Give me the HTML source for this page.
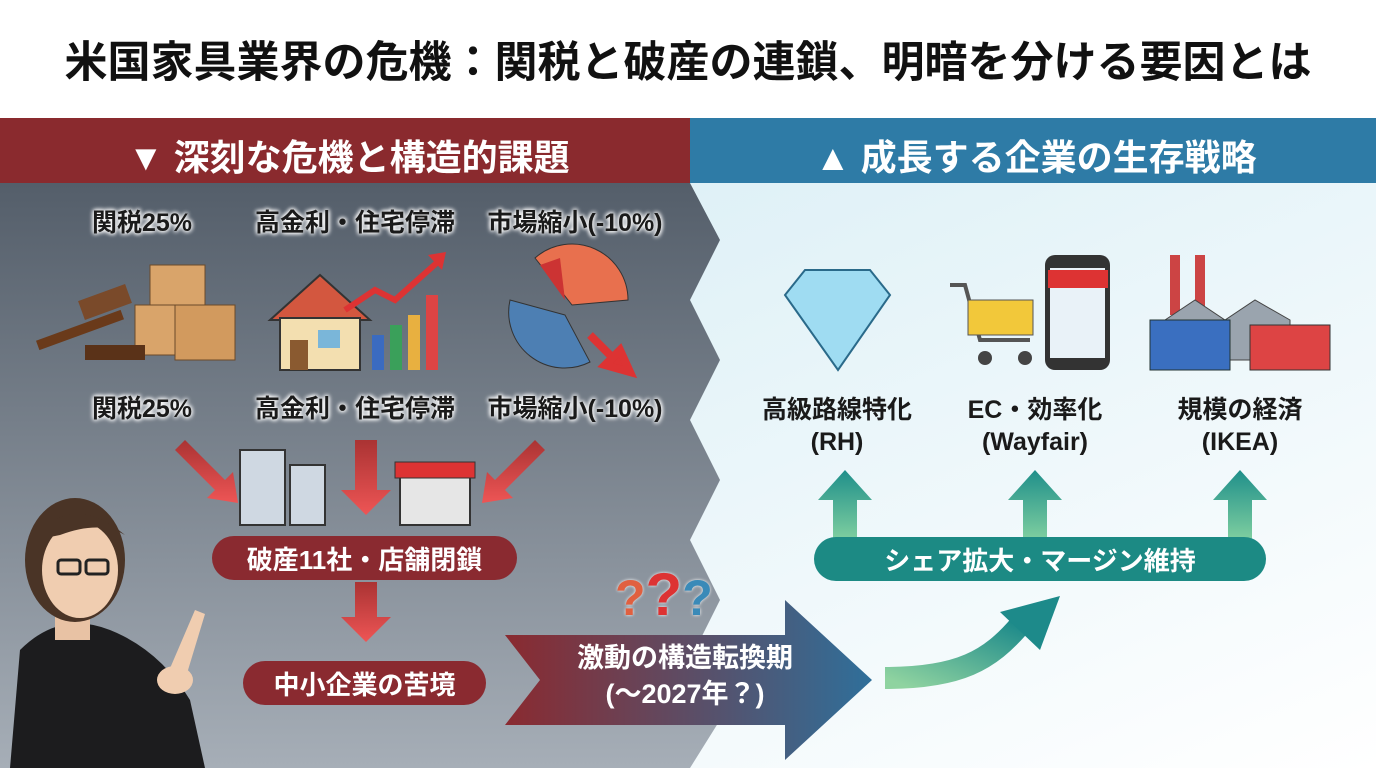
<!DOCTYPE html>
<html><head><meta charset="utf-8"><style>
*{margin:0;padding:0;box-sizing:border-box}
body{width:1376px;height:768px;overflow:hidden;position:relative;background:#fff;font-family:"Liberation Sans","Noto Sans CJK JP",sans-serif}
.t{position:absolute;white-space:nowrap;font-weight:bold}
.lbl{font-size:25px;color:#1a1a1a;text-shadow:0 0 4px #fff,0 0 4px #fff,0 0 6px #fff;transform:translateX(-50%);text-align:center;line-height:30px}
.rl{font-size:25px;color:#1a1a1a;transform:translateX(-50%);text-align:center;line-height:32px}
.pill{position:absolute;border-radius:24px;color:#fff;font-weight:bold;display:flex;align-items:center;justify-content:center}
</style></head><body>
<div class="t" style="left:0;width:1376px;top:28px;text-align:center;font-size:43px;color:#111">米国家具業界の危機：関税と破産の連鎖、明暗を分ける要因とは</div>
<svg style="position:absolute;left:0;top:0" width="1376" height="768">
<defs>
<linearGradient id="lg" x1="0" y1="0" x2="0" y2="1"><stop offset="0" stop-color="#545e6a"/><stop offset="1" stop-color="#a6aeb7"/></linearGradient>
<linearGradient id="rg" x1="0" y1="0" x2="1" y2="1"><stop offset="0" stop-color="#d4ecf4"/><stop offset="1" stop-color="#ffffff"/></linearGradient>
<linearGradient id="ag" x1="0" y1="0" x2="1" y2="0"><stop offset="0" stop-color="#8a2a30"/><stop offset="1" stop-color="#2f6f9a"/></linearGradient>
<linearGradient id="tg" x1="0" y1="1" x2="1" y2="0"><stop offset="0" stop-color="#8fd3a0"/><stop offset="1" stop-color="#1d8a8a"/></linearGradient>
<linearGradient id="ug" x1="0" y1="1" x2="0" y2="0"><stop offset="0" stop-color="#7fcfa0"/><stop offset="1" stop-color="#1f8f8a"/></linearGradient>
<linearGradient id="dg" x1="0" y1="0" x2="0" y2="1"><stop offset="0" stop-color="#a33"/><stop offset="1" stop-color="#e55"/></linearGradient>
</defs>
<rect x="0" y="183" width="1376" height="585" fill="url(#rg)"/>
<path d="M0 183 H690 L720 240 L690 300 L720 360 L690 420 L720 480 L690 540 L720 600 L690 660 L720 720 L690 768 H0Z" fill="url(#lg)"/>
<rect x="0" y="118" width="690" height="65" fill="#8a2a2e"/>
<rect x="690" y="118" width="686" height="65" fill="#2e7ba6"/>
<g><rect x="150" y="265" width="55" height="45" fill="#d9a46a" stroke="#6b4a2a"/><rect x="135" y="305" width="55" height="50" fill="#d9a46a" stroke="#6b4a2a"/><rect x="175" y="305" width="60" height="55" fill="#d29a5e" stroke="#6b4a2a"/>
<rect x="80" y="292" width="50" height="20" fill="#7a4a2a" transform="rotate(-20 105 302)"/><rect x="35" y="325" width="90" height="10" fill="#6a3a1a" transform="rotate(-20 80 330)"/><rect x="85" y="345" width="60" height="15" fill="#5a3218"/></g>
<g><path d="M270 320 L320 275 L370 320Z" fill="#d3573f" stroke="#333" stroke-width="2"/><rect x="280" y="318" width="80" height="52" fill="#f3dfb0" stroke="#333" stroke-width="2"/><rect x="290" y="340" width="18" height="30" fill="#8a5a30"/><rect x="318" y="330" width="22" height="18" fill="#7ab6d9"/>
<rect x="372" y="335" width="12" height="35" fill="#3b6bc0"/><rect x="390" y="325" width="12" height="45" fill="#3aa05a"/><rect x="408" y="315" width="12" height="55" fill="#e8b040"/><rect x="426" y="295" width="12" height="75" fill="#d44"/>
<polyline points="345,310 375,290 395,300 440,260" fill="none" stroke="#d33" stroke-width="6"/><path d="M428 255 L446 252 L442 270Z" fill="#d33"/></g>
<g><path d="M565 315 L510 300 A56 56 0 0 0 590 362 Z" fill="#4d7fb3" stroke="#333"/><path d="M572 305 L535 258 A56 56 0 0 1 628 300Z" fill="#e8704e" stroke="#333"/><path d="M540 265 L560 258 L565 300 Z" fill="#c33"/><path d="M590 335 L615 360 M605 365 L630 372 L620 350Z" stroke="#d33" stroke-width="8" fill="#d33"/></g>
<path d="M185 440 L225 480 L233 472 L238 503 L207 498 L215 490 L175 450Z" fill="url(#dg)"/>
<path d="M355 440 h22 v50 h14 l-25 25 l-25 -25 h14Z" fill="url(#dg)"/>
<path d="M535 440 L495 480 L487 472 L482 503 L513 498 L505 490 L545 450Z" fill="url(#dg)"/>
<path d="M355 582 h22 v35 h14 l-25 25 l-25 -25 h14Z" fill="url(#dg)"/>
<rect x="240" y="450" width="45" height="75" fill="#cfd8e2" stroke="#333" stroke-width="2"/><rect x="290" y="465" width="35" height="60" fill="#cfd8e2" stroke="#333" stroke-width="2"/>
<rect x="400" y="475" width="70" height="50" fill="#e6e6e6" stroke="#333" stroke-width="2"/><rect x="395" y="462" width="80" height="16" fill="#d33" stroke="#333"/>
<path d="M505 635 H785 V600 L872 680 L785 760 V725 H505 L540 680Z" fill="url(#ag)"/>
<path d="M885 678 C960 678 990 660 1020 625" fill="none" stroke="url(#tg)" stroke-width="22"/><path d="M1000 612 L1060 596 L1040 650Z" fill="#1d8a8a"/>
<g fill="url(#ug)"><path d="M833 540 V500 H818 L845 470 L872 500 H857 V540Z"/><path d="M1023 540 V500 H1008 L1035 470 L1062 500 H1047 V540Z"/><path d="M1228 540 V500 H1213 L1240 470 L1267 500 H1252 V540Z"/></g>
<path d="M785 295 L805 270 H870 L890 295 L838 370Z" fill="#9fdcf2" stroke="#2a6a8a" stroke-width="2"/>
<rect x="1045" y="255" width="65" height="115" rx="10" fill="#333"/><rect x="1050" y="268" width="55" height="90" fill="#e9f2f8"/><rect x="1048" y="270" width="60" height="18" fill="#d33"/>
<path d="M950 285 h15 l15 55 h50" fill="none" stroke="#555" stroke-width="4"/><rect x="968" y="300" width="65" height="35" fill="#f2c83a" stroke="#555"/><circle cx="985" cy="358" r="7" fill="#444"/><circle cx="1025" cy="358" r="7" fill="#444"/>
<rect x="1170" y="255" width="10" height="60" fill="#c44"/><rect x="1195" y="255" width="10" height="60" fill="#c44"/><path d="M1165 320 L1195 300 L1225 320 L1255 300 L1290 320 V360 H1165Z" fill="#9aa4ae" stroke="#444"/>
<rect x="1150" y="320" width="80" height="50" fill="#3a6fc0" stroke="#233"/><rect x="1250" y="325" width="80" height="45" fill="#d44" stroke="#333"/>
<path d="M10 768 L20 650 Q60 610 110 630 Q160 650 190 700 L205 768Z" fill="#1c1c1e"/>
<path d="M55 600 h35 v40 h-35Z" fill="#e8c2a4"/>
<ellipse cx="75" cy="560" rx="50" ry="62" fill="#4a3426"/><ellipse cx="80" cy="570" rx="38" ry="48" fill="#f0cdb0"/>
<path d="M35 540 Q70 490 125 535 Q100 520 60 535Z" fill="#4a3426"/>
<rect x="58" y="560" width="22" height="14" rx="3" fill="none" stroke="#222" stroke-width="3"/><rect x="86" y="560" width="22" height="14" rx="3" fill="none" stroke="#222" stroke-width="3"/>
<path d="M165 680 L195 610 L205 614 L185 680Z" fill="#f0cdb0"/><ellipse cx="175" cy="680" rx="18" ry="14" fill="#f0cdb0"/>
</svg>
<div class="t" style="left:128px;top:129px;font-size:36px;color:#fff">▼ 深刻な危機と構造的課題</div>
<div class="t" style="left:815px;top:129px;font-size:36px;color:#fff">▲ 成長する企業の生存戦略</div>
<div class="t lbl" style="left:142px;top:208px">関税25%</div>
<div class="t lbl" style="left:355px;top:208px">高金利・住宅停滞</div>
<div class="t lbl" style="left:575px;top:208px">市場縮小(-10%)</div>
<div class="t lbl" style="left:142px;top:394px">関税25%</div>
<div class="t lbl" style="left:355px;top:394px">高金利・住宅停滞</div>
<div class="t lbl" style="left:575px;top:394px">市場縮小(-10%)</div>
<div class="pill" style="left:212px;top:536px;width:305px;height:44px;background:#8a2a30;font-size:26px">破産11社・店舗閉鎖</div>
<div class="pill" style="left:243px;top:661px;width:243px;height:44px;background:#8a2a30;font-size:26px">中小企業の苦境</div>
<div class="t" style="left:685px;top:640px;transform:translateX(-50%);text-align:center;font-size:27px;color:#fff;line-height:36px">激動の構造転換期<br>(〜2027年？)</div>
<div class="t" style="left:615px;top:560px;font-size:50px;color:#e06040;text-shadow:0 0 3px #fff">?<span style="color:#d33;font-size:60px">?</span><span style="color:#3a8ab8">?</span></div>
<div class="pill" style="left:814px;top:537px;width:452px;height:44px;background:#1c8a84;font-size:26px">シェア拡大・マージン維持</div>
<div class="t rl" style="left:837px;top:394px">高級路線特化<br>(RH)</div>
<div class="t rl" style="left:1035px;top:394px">EC・効率化<br>(Wayfair)</div>
<div class="t rl" style="left:1240px;top:394px">規模の経済<br>(IKEA)</div>
</body></html>
